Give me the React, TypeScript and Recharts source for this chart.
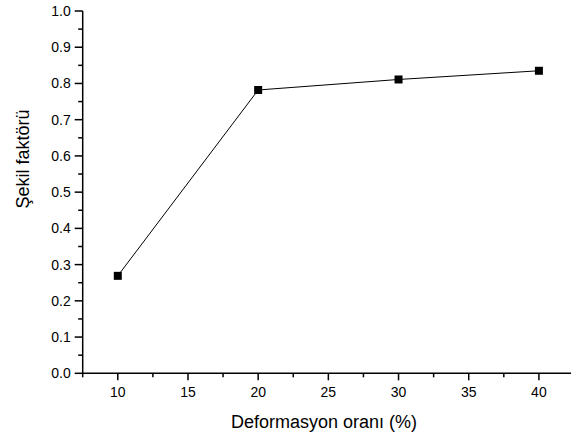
import { Line, LineChart, XAxis, YAxis } from "recharts"

const deformation = [10, 20, 30, 40]
const shapeFactor = [0.269, 0.782, 0.811, 0.835]

const xMajor = [10, 15, 20, 25, 30, 35, 40]
const xMinor = [7.5, 12.5, 17.5, 22.5, 27.5, 32.5, 37.5, 42.5]
const yMajor = [0, 0.1, 0.2, 0.3, 0.4, 0.5, 0.6, 0.7, 0.8, 0.9, 1.0]
const yMinor = [0.05, 0.15, 0.25, 0.35, 0.45, 0.55, 0.65, 0.75, 0.85, 0.95]

const data = deformation.map((x, i) => ({ x, y: shapeFactor[i] }))

const xTicks = [...xMajor, ...xMinor].sort((a, b) => a - b)
const yTicks = [...yMajor, ...yMinor].sort((a, b) => a - b)

const font = "Arial, 'Liberation Sans', sans-serif"

function BottomTick({ x, y, payload }: any) {
  const major = xMajor.includes(payload.value)
  return (
    <g>
      <line x1={x} x2={x} y1={y} y2={y + (major ? 7 : 4)} stroke="#000" strokeWidth={1.5} />
      {major && (
        <text x={x} y={y + 24} textAnchor="middle" fontSize={14} fontFamily={font} fill="#000">
          {payload.value}
        </text>
      )}
    </g>
  )
}

function TopTick({ x, y }: any) {
  return <line x1={x} x2={x} y1={y} y2={y + 2} stroke="#000" strokeWidth={1.5} />
}

function LeftTick({ x, y, payload }: any) {
  const major = yMajor.some((v) => Math.abs(v - payload.value) < 1e-6)
  return (
    <g>
      <line x1={x - (major ? 8 : 4.5)} x2={x} y1={y} y2={y} stroke="#000" strokeWidth={1.5} />
      {major && (
        <text x={x - 12} y={y + 5} textAnchor="end" fontSize={14} fontFamily={font} fill="#000">
          {payload.value.toFixed(1)}
        </text>
      )}
    </g>
  )
}

export default function App() {
  return (
    <div
      style={{
        position: "absolute",
        left: 0,
        top: 0,
        width: 571,
        height: 437,
        overflow: "hidden",
        background: "#fff",
      }}
    >
      <LineChart width={575} height={437} data={data} margin={{ top: 11, right: 1, bottom: 0, left: 0 }}>
        <XAxis
          dataKey="x"
          type="number"
          domain={[7.5, 42.5]}
          ticks={xTicks}
          interval={0}
          height={63.7}
          tickSize={0}
          tickMargin={0}
          tickLine={false}
          tick={<BottomTick />}
          axisLine={{ stroke: "#000", strokeWidth: 1.5 }}
          label={() => (
            <text x={324} y={428} textAnchor="middle" fontSize={18} fontFamily={font} fill="#000">
              Deformasyon oranı (%)
            </text>
          )}
        />
        <XAxis
          xAxisId="top"
          orientation="top"
          dataKey="x"
          type="number"
          domain={[7.5, 42.5]}
          ticks={xTicks}
          interval={0}
          height={0}
          tickSize={0}
          tickMargin={0}
          tickLine={false}
          tick={<TopTick />}
          axisLine={{ stroke: "#000", strokeWidth: 1.5 }}
        />
        <YAxis
          type="number"
          domain={[0, 1]}
          ticks={yTicks}
          interval={0}
          width={82.7}
          tickSize={0}
          tickMargin={0}
          tickLine={false}
          tick={<LeftTick />}
          axisLine={{ stroke: "#000", strokeWidth: 1.5 }}
          label={() => (
            <text
              x={29}
              y={159}
              transform="rotate(-90 29 159)"
              textAnchor="middle"
              fontSize={18}
              fontFamily={font}
              fill="#000"
            >
              Şekil faktörü
            </text>
          )}
        />
        <Line
          dataKey="y"
          type="linear"
          stroke="#000"
          strokeWidth={1}
          isAnimationActive={false}
          dot={(p: any) => (
            <rect key={p.index} x={p.cx - 4} y={p.cy - 4} width={8} height={8} fill="#000" />
          )}
          activeDot={false}
        />
      </LineChart>
    </div>
  )
}
